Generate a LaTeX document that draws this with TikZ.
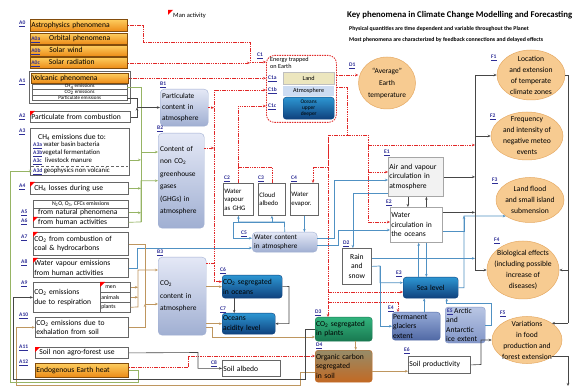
\documentclass[tikz,border=0pt]{standalone}
\usepackage{fontspec}
\setmainfont{Carlito}
\usetikzlibrary{shapes.geometric,arrows.meta}

\definecolor{labblue}{RGB}{45,45,150}
\definecolor{heatred}{RGB}{225,40,40}
\definecolor{waterblue}{RGB}{80,145,195}
\definecolor{carbontan}{RGB}{190,150,95}
\definecolor{ghggreen}{RGB}{150,180,100}
\definecolor{linkgray}{RGB}{70,70,70}
\definecolor{ellfill}{RGB}{247,203,145}
\definecolor{ellline}{RGB}{230,170,100}
\definecolor{orangetop}{RGB}{253,205,95}
\definecolor{orangebot}{RGB}{236,138,22}
\definecolor{gbtop}{RGB}{228,232,246}
\definecolor{gbbot}{RGB}{160,175,210}
\definecolor{seatop}{RGB}{45,150,210}
\definecolor{seabot}{RGB}{15,65,125}
\definecolor{icetop}{RGB}{150,170,215}
\definecolor{icebot}{RGB}{80,105,165}
\definecolor{arctop}{RGB}{185,198,228}
\definecolor{arcbot}{RGB}{130,150,200}
\definecolor{planttop}{RGB}{50,180,125}
\definecolor{plantbot}{RGB}{25,120,80}
\definecolor{soiltop}{RGB}{150,140,105}
\definecolor{soilbot}{RGB}{195,105,35}
\definecolor{landfill}{RGB}{236,230,190}
\definecolor{atmofill}{RGB}{205,220,242}

\newcommand{\plab}[1]{{\fontsize{5.5}{6}\selectfont\bfseries\color{labblue}\underline{#1}}}

\begin{document}
\begin{tikzpicture}[x=1pt,y=-1pt,
    every node/.style={inner sep=1pt, font=\fontsize{7.6}{9.5}\selectfont},
    box/.style={anchor=north west, draw=black!60, line width=0.8pt, fill=white, align=left},
    orangebox/.style={box, draw=orangebot!55!black, top color=orangetop, bottom color=orangebot},
    row/.style={box, line width=0.4pt, inner sep=0pt, align=center, font=\fontsize{5}{5}\selectfont},
    graybox/.style={anchor=north west, rounded corners=4pt, draw=gbbot, top color=gbtop, bottom color=gbbot, align=left, inner sep=2pt},
    seabox/.style={anchor=north west, rounded corners=3pt, draw=seabot, top color=seatop, bottom color=seabot, align=left},
    icebox/.style={seabox, draw=icebot, top color=icetop, bottom color=icebot},
    arcbox/.style={seabox, draw=arcbot, top color=arctop, bottom color=arcbot},
    plantbox/.style={seabox, draw=plantbot, top color=planttop, bottom color=plantbot},
    soilbox/.style={seabox, draw=soilbot, top color=soiltop, bottom color=soilbot},
    tag/.style={anchor=west, inner sep=0pt, text=labblue, font=\fontsize{5.5}{6}\selectfont\bfseries},
    ell/.style={ellipse, draw=ellline, fill=ellfill, line width=0.5pt},
    etext/.style={align=center, font=\fontsize{7.6}{11}\selectfont},
    manflag/.pic={\fill[red] (0,0) -- (5,0) -- (0,5) -- cycle;}]
    \tikzset{endtip/.style={-{Stealth[length=3pt,width=2.5pt]}},
        heat/.style={endtip, draw=heatred, line width=0.6pt, dash pattern=on 1.5pt off 0.8pt},
        heatline/.style={heat, -},
        water/.style={endtip, draw=waterblue, line width=0.7pt},
        carbon/.style={endtip, draw=carbontan, line width=0.7pt},
        ghg/.style={endtip, draw=ghggreen, line width=0.7pt},
        link/.style={endtip, draw=linkgray, line width=0.6pt}}
    \path[use as bounding box, fill=white] (0,0) rectangle (573,387);

    \node[anchor=west, font=\fontsize{8.8}{10}\selectfont\bfseries] (title) at (346,15) {Key phenomena in Climate Change Modelling and Forecasting};
    \node[anchor=west, font=\fontsize{5.8}{6}\selectfont\bfseries] (sub1) at (348,29) {Physical quantities are time dependent and variable throughout the Planet};
    \node[anchor=west, font=\fontsize{5.8}{6}\selectfont\bfseries] (sub2) at (348,40) {Most phenomena are characterized by feedback connections and delayed effects};
    \pic at (168,10) {manflag};
    \node[anchor=west, font=\fontsize{6.5}{7}\selectfont] (legend) at (172,16) {Man activity};

    \node[tag] (tA0) at (19,24) {\underline{A0}};
    \node[orangebox, text width=95pt, minimum height=12pt] (A0) at (30,19) {Astrophysics phenomena};
    \node[orangebox, text width=95pt, minimum height=11pt] (A0a) at (30,33) {\plab{A0a}\hspace{9pt}Orbital phenomena};
    \node[orangebox, text width=95pt, minimum height=11pt] (A0b) at (30,45) {\plab{A0b}\hspace{9pt}Solar wind};
    \node[orangebox, text width=95pt, minimum height=11pt] (A0c) at (30,57) {\plab{A0c}\hspace{9pt}Solar radiation};

    \node[tag] (tA1) at (19,82) {\underline{A1}};
    \node[box, minimum width=101pt, minimum height=32pt] (A1) at (29,71) {};
    \node[orangebox, line width=0.5pt, text width=95pt, minimum height=10pt] (A1v) at (31,73) {Volcanic phenomena};
    \node[row, minimum width=95pt, minimum height=5.5pt] (A1ch4) at (32,84) {CH\textsubscript{4} emissions};
    \node[row, minimum width=95pt, minimum height=5.5pt] (A1co2) at (32,89.5) {CO\textsubscript{2} emissions};
    \node[row, minimum width=95pt, minimum height=5.5pt] (A1par) at (32,95) {Particulate emissions};

    \node[tag] (tA2) at (19,117) {\underline{A2}};
    \node[box, text width=98pt, minimum height=11pt] (A2) at (30,111) {Particulate from combustion};
    \pic at (A2.north west) {manflag};

    \node[tag] (tA3) at (19,132) {\underline{A3}};
    \node[box, minimum width=99pt, minimum height=47pt] (A3) at (30,128) {};
    \node[anchor=west] (A3t) at (37,137) {CH\textsubscript{4} emissions due to:};
    \node[anchor=west, font=\fontsize{6.8}{7}\selectfont] (A3a) at (32,145) {\plab{A3a} water basin bacteria};
    \node[anchor=west, font=\fontsize{6.8}{7}\selectfont] (A3b) at (32,153) {\plab{A3b}vegetal fermentation};
    \node[anchor=west, font=\fontsize{6.8}{7}\selectfont] (A3c) at (32,161) {\plab{A3c}\hspace{2pt} livestock manure};
    \draw[black!60, densely dashed, line width=0.5pt] (31,166) -- (128,166);
    \node[anchor=west, font=\fontsize{6.8}{7}\selectfont] (A3d) at (32,171) {\plab{A3d} geophysics non volcanic};

    \node[tag] (tA4) at (19,187) {\underline{A4}};
    \node[box, text width=96pt, minimum height=12pt] (A4) at (30,182) {\hspace{3pt}CH\textsubscript{4} losses during use};
    \pic at (A4.north west) {manflag};

    \node[box, minimum width=95pt, minimum height=27pt] (A56) at (33,200) {};
    \node[row, minimum width=95pt, minimum height=8pt, font=\fontsize{5.8}{6}\selectfont] (A56h) at (33,200) {N\textsubscript{2}O, O\textsubscript{3}, CFCs emissions};
    \node[tag] (tA5) at (21,213) {\underline{A5}};
    \node[box, line width=0.5pt, text width=93pt, minimum height=9pt] (A5) at (33,208) {\hspace{4pt}from natural phenomena};
    \node[tag] (tA6) at (21,222) {\underline{A6}};
    \node[box, line width=0.5pt, text width=93pt, minimum height=10pt] (A6) at (33,217) {\hspace{4pt}from human activities};
    \pic at (A6.north west) {manflag};

    \node[tag] (tA7) at (21,238) {\underline{A7}};
    \node[box, text width=93pt, minimum height=23pt] (A7) at (33,232) {CO\textsubscript{2} from combustion of\\coal \& hydrocarbons};
    \pic at (A7.north west) {manflag};
    \node[tag] (tA8) at (21,263) {\underline{A8}};
    \node[box, text width=93pt, minimum height=19pt] (A8) at (33,258) {Water vapour emissions\\from human activities};
    \pic at (A8.north west) {manflag};

    \node[tag] (tA9) at (21,284) {\underline{A9}};
    \node[box, text width=95pt, minimum height=30pt] (A9) at (33,282) {CO\textsubscript{2} emissions\\due to respiration};
    \node[box, line width=0.5pt, text width=28pt, minimum height=10pt, font=\fontsize{5.8}{6}\selectfont] (A9m) at (100,282) {\hspace{4pt}men};
    \pic at (A9m.north west) {manflag};
    \node[box, line width=0.5pt, text width=28pt, minimum height=10pt, font=\fontsize{5.8}{6}\selectfont] (A9a) at (100,292) {animals};
    \node[box, line width=0.5pt, text width=28pt, minimum height=10pt, font=\fontsize{5.8}{6}\selectfont] (A9p) at (100,302) {plants};
    \node[tag] (tA10) at (19,316) {\underline{A10}};
    \node[box, text width=91pt, minimum height=20pt] (A10) at (35,317) {CO\textsubscript{2} emissions due to\\exhalation from soil};
    \node[tag] (tA11) at (19,348) {\underline{A11}};
    \node[box, text width=91pt, minimum height=11pt] (A11) at (35,347) {\hspace{3pt}Soil non agro-forest use};
    \pic at (A11.north west) {manflag};
    \node[tag] (tA12) at (19,363) {\underline{A12}};
    \node[orangebox, text width=91pt, minimum height=14pt] (A12) at (35,363) {Endogenous Earth heat};

    \node[tag] (tB1) at (160,85) {\underline{B1}};
    \node[graybox, text width=44pt, minimum height=37pt, font=\fontsize{7.4}{11}\selectfont] (B1) at (160,89) {Particulate\\content in\\atmosphere};
    \node[tag] (tB2) at (157,129) {\underline{B2}};
    \node[graybox, text width=42pt, minimum height=95pt, font=\fontsize{7.4}{12.5}\selectfont] (B2) at (158,133) {Content of\\non CO\textsubscript{2}\\greenhouse\\gases\\(GHGs) in\\atmosphere};
    \node[tag] (tB3) at (157,253) {\underline{B3}};
    \node[graybox, text width=44pt, minimum height=78pt, font=\fontsize{7.4}{12.5}\selectfont] (B3) at (158,257) {CO\textsubscript{2}\\content in\\atmosphere};

    \node[tag] (tC1) at (257,56) {\underline{C1}};
    \node[anchor=north west, draw=heatred, line width=0.8pt, dash pattern=on 1.5pt off 1pt, rounded corners=8pt, minimum width=70pt, minimum height=67pt] (C1) at (266,55) {};
    \node[anchor=north west, align=left, font=\fontsize{6.2}{7}\selectfont] (C1t) at (269,56) {Energy trapped\\on Earth};
    \node[tag] (tC1a) at (268,79) {\underline{C1a}};
    \node[anchor=north west, draw=gray!50, fill=landfill, minimum width=51pt, minimum height=12pt, font=\fontsize{6.2}{7}\selectfont] (C1a) at (283,72) {Land};
    \node[tag] (tC1b) at (268,91) {\underline{C1b}};
    \node[anchor=north west, fill=atmofill, minimum width=51pt, minimum height=10pt, font=\fontsize{6.2}{7}\selectfont] (C1b) at (283,86) {Atmosphere};
    \node[tag] (tC1c) at (268,107) {\underline{C1c}};
    \node[seabox, align=center, minimum width=51pt, minimum height=22pt, font=\fontsize{5.5}{6}\selectfont] (C1c) at (283,97) {Oceans\\upper\\deeper};

    \node[tag] (tD1) at (349,66) {\underline{D1}};
    \node[ell, minimum width=57pt, minimum height=52pt] (D1) at (387,83) {};
    \node[etext, font=\fontsize{7.4}{12}\selectfont] (D1t) at (D1) {``Average''\\Earth\\temperature};

    \node[tag] (tC2) at (224,179) {\underline{C2}};
    \node[box, text width=28pt, minimum height=32pt, font=\fontsize{6.8}{8.5}\selectfont] (C2) at (223,183) {Water\\vapour\\as GHG};
    \node[tag] (tC3) at (258,179) {\underline{C3}};
    \node[box, text width=25pt, minimum height=32pt, font=\fontsize{6.8}{8.5}\selectfont] (C3) at (258,183) {Cloud\\albedo};
    \node[tag] (tC4) at (291,179) {\underline{C4}};
    \node[box, text width=26pt, minimum height=32pt, font=\fontsize{6.8}{8.5}\selectfont] (C4) at (290,183) {Water\\evapor.};
    \node[tag] (tC5) at (241,234) {\underline{C5}};
    \node[graybox, text width=61pt, minimum height=20pt, font=\fontsize{7.2}{8.5}\selectfont] (C5) at (252,232) {Water content\\in atmosphere};
    \node[tag] (tC6) at (220,271) {\underline{C6}};
    \node[seabox, text width=58pt, minimum height=23pt] (C6) at (222,275) {CO\textsubscript{2} segregated\\in oceans};
    \node[tag] (tC7) at (220,310) {\underline{C7}};
    \node[seabox, text width=51pt, minimum height=21pt] (C7) at (222,313) {Oceans\\acidity level};
    \node[tag] (tC8) at (211,364) {\underline{C8}};
    \node[box, text width=56pt, minimum height=16pt] (C8) at (222,360) {Soil albedo};

    \node[tag] (tD2) at (343,244) {\underline{D2}};
    \node[box, align=center, text width=27pt, minimum height=36pt] (D2) at (342,248) {Rain\\and\\snow};
    \node[tag] (tD3) at (315,313) {\underline{D3}};
    \node[plantbox, text width=55pt, minimum height=24pt] (D3) at (315,317) {CO\textsubscript{2} segregated\\in plants};
    \node[tag] (tD4) at (316,346) {\underline{D4}};
    \node[soilbox, text width=55pt, minimum height=32pt] (D4) at (315,350) {Organic carbon\\segregated\\in soil};

    \node[tag] (tE1) at (384,153) {\underline{E1}};
    \node[box, draw=gray!70, fill=gray!10, text width=53pt, minimum height=39pt] (E1) at (388,157) {Air and vapour\\circulation in\\atmosphere};
    \node[tag] (tE2) at (386,203) {\underline{E2}};
    \node[box, draw=gray!70, text width=50pt, minimum height=35pt] (E2) at (390,207) {Water\\circulation in\\the oceans};
    \node[seabox, align=center, text width=53pt, minimum height=21pt] (E3) at (403,277) {Sea level};
    \node[tag] (tE3) at (396,274) {\underline{E3}};
    \node[tag] (tE4) at (388,309) {\underline{E4}};
    \node[icebox, text width=46pt, minimum height=28pt] (E4) at (392,312) {Permanent\\glaciers\\extent};
    \node[arcbox, text width=38pt, minimum height=33pt] (E5) at (445,307) {\hspace{8pt}Arctic and\\Antarctic\\ice extent};
    \node[tag] (tE5) at (447,312) {\underline{E5}};
    \node[tag] (tE6) at (404,351) {\underline{E6}};
    \node[box, text width=60pt, minimum height=17pt] (E6) at (408,356) {Soil productivity};

    \node[tag] (tF1) at (491,58) {\underline{F1}};
    \node[ell, minimum width=68pt, minimum height=50pt] (F1) at (531,75) {};
    \node[etext] (F1t) at (F1) {Location\\and extension\\of temperate\\climate zones};
    \node[tag] (tF2) at (490,117) {\underline{F2}};
    \node[ell, minimum width=72pt, minimum height=48pt] (F2) at (527,136) {};
    \node[etext] (F2t) at (F2) {Frequency\\and intensity of\\negative meteo\\events};
    \node[tag] (tF3) at (492,181) {\underline{F3}};
    \node[ell, minimum width=68pt, minimum height=45pt] (F3) at (530,200) {};
    \node[etext] (F3t) at (F3) {Land flood\\and small island\\submension};
    \node[tag] (tF4) at (494,241) {\underline{F4}};
    \node[ell, minimum width=72pt, minimum height=58pt] (F4) at (523,270) {};
    \node[etext] (F4t) at (F4) {Biological effects\\(including possible\\increase of\\diseases)};
    \node[tag] (tF5) at (500,314) {\underline{F5}};
    \node[ell, minimum width=70pt, minimum height=47pt] (F5) at (527,340) {};
    \node[etext] (F5t) at (F5) {Variations\\in food\\production and\\forest extension};

    \coordinate (hx1) at (143,42);
    \coordinate (hx2) at (250,62);
    \coordinate (hb) at (214,90);
    \coordinate (hj) at (238,167);
    \coordinate (hs1) at (347,135);
    \coordinate (hl) at (328,135);
    \coordinate (hc4) at (313,167);
    \coordinate (hl3) at (328,292);
    \coordinate (hl4) at (328,302);
    \coordinate (hr) at (368,135);
    \coordinate (hr2) at (368,145);
    \coordinate (hr1) at (368,172);
    \coordinate (hr3) at (368,222);
    \coordinate (hq) at (188,356);
    \coordinate (fb) at (475,75);
    \coordinate (rb) at (568,75);
    \coordinate (rb2) at (568,386);
    \coordinate (b2h) at ([yshift=-15pt]B2.north east);
    \coordinate (b3h) at ([yshift=-6pt]B3.north east);
    \coordinate (c6h) at ([yshift=5pt]C6.west);
    \coordinate (c1c) at ([yshift=-51pt]C1.north west);
    \coordinate (c1e) at ([yshift=-20pt]C1.north east);
    \coordinate (c1s) at ([yshift=-32pt]C1.north east);
    \coordinate (a12o) at ([yshift=3pt]A12.east);

    \draw[heat] (A0.east) -| (hx1) -| (hx2) -- (hx2 -| C1.west);
    \draw[heat] (A0c.east) -- (A0c.east -| hx2);
    \draw[heat] (A1v.east) -- (A1v.east -| C1.west);
    \draw[heat] (b3h) -| (hb) -- (hb -| C1.west);
    \draw[heat] (B1.east) -- (B1.east -| hb);
    \draw[heat] (b2h) -- (b2h -| hb);
    \draw[heat] (b3h -| hb) |- (c6h);
    \draw[heat] (C2.north) |- (c1c);
    \draw[heatline] (C3.north) |- (hj);
    \draw[heat] (c1e) -- (c1e -| D1.west);
    \draw[heatline] (c1s) -| (hs1);
    \draw[heat] (hs1) -- (hl) |- (hc4) -- (hc4 |- C4.north);
    \draw[heat] (hl) -- (hl |- D3.north);
    \draw[heat] (hl3) -- (hl3 -| E3.west);
    \draw[heat] (hl4) -| ([xshift=6pt]E4.north west);
    \draw[heat] (hs1) -- (hr) -- (hr3) -- (hr3 -| E2.west);
    \draw[heat] (hr1) -- (hr1 -| E1.west);
    \draw[heat] (hr2) -- (hr2 -| fb);
    \draw[heat] (a12o) -| (hq) -- (hq -| D4.west);

    \coordinate (w1) at (137,248);
    \coordinate (w2) at (284.5,222);
    \coordinate (w3) at (233,222);
    \coordinate (w5) at (334,180);
    \coordinate (w6) at (338,230);
    \coordinate (w7) at (380,266);
    \coordinate (w8) at (491,303);
    \coordinate (w9) at (464,216);
    \coordinate (c5w) at ([yshift=4pt]C5.west);
    \coordinate (c5a) at ([yshift=4pt]C5.east);
    \coordinate (c5b) at ([yshift=-3pt]C5.east);
    \coordinate (e1d) at ([yshift=-16pt]E1.west);
    \coordinate (d2n) at ([xshift=-4pt]D2.north);
    \coordinate (d2o) at ([yshift=8pt]D2.east);
    \coordinate (e3w) at ([yshift=5pt]E3.west);
    \coordinate (e2s) at ([xshift=10pt]E2.south);
    \coordinate (e3n) at ([xshift=-12pt]E3.north);
    \coordinate (e4n) at ([xshift=8pt]E4.north);
    \coordinate (e3s) at ([xshift=16pt]E3.south);
    \coordinate (e2e) at ([yshift=-6pt]E2.east);

    \draw[water] (A8.east) -| (w1) -- (w1 -| C5.west);
    \draw[water] (C5.north) -- (w2) -| (C2.south);
    \draw[water] (w2) -| (C3.south);
    \draw[water] (w2) -- (w3) |- (c5w);
    \draw[water] (C4.south) -- (C4.south |- C5.north);
    \draw[water] (c5a) -| (w5) -- (w5 -| E1.west);
    \draw[water] (c5b) -| (w6) -- (w6 -| E2.west);
    \draw[water] (e1d) -| (d2n);
    \draw[water] (D2.east) -- (w7) |- (e3w);
    \draw[water] (w7) |- (E4.west);
    \draw[water] (d2o) -- (d2o -| fb);
    \draw[water] (e2s) -- (e2s |- E3.north);
    \draw[water] (e3n) -- (e3n |- E2.south);
    \draw[water] (e4n) -- (e4n |- E3.south);
    \draw[water] (E5.east) -| (w8) -| (e3s);
    \draw[water] (E3.east) -| (w9) -- (F3.south west);
    \draw[water] (e2e) -| (w9);

    \coordinate (k1) at (145,304);
    \coordinate (k2) at (138,307);
    \coordinate (k3) at (138,270);
    \coordinate (k4) at (212,337);
    \coordinate (k5) at (300,385);
    \coordinate (k6) at (16,385);
    \coordinate (b3o) at ([yshift=8pt]B3.south east);
    \coordinate (d3s) at ([xshift=12pt]D3.south);
    \coordinate (d4e) at ([yshift=-5pt]D4.east);
    \coordinate (d4w) at ([yshift=-6pt]D4.west);

    \draw[carbon] (A7.east) -| (k1) -- (k1 -| B3.west);
    \draw[carbon] (A10.east) -| (k1);
    \draw[carbon] (A9p.east) -- (k2) -- (k3) -- (k3 -| B3.west);
    \draw[carbon] (A9m.east) -- (A9m.east -| k2);
    \draw[carbon] (A9a.east) -- (A9a.east -| k2);
    \draw[carbon] (C6.west -| B3.east) -- (C6.west);
    \draw[carbon] (C7.west -| B3.east) -- (C7.west);
    \draw[carbon] (b3o) -| (k4) -- (k4 -| D3.west);
    \draw[carbon] (d3s) -- (d3s |- D4.north);
    \draw[carbon] (d4e) -- (d4e -| E6.west);
    \draw[carbon] (d4w) -| (k5) -- (k6) |- (A10.west);

    \coordinate (g1) at (141,152);
    \coordinate (g2) at (141,222);
    \coordinate (g4) at (138,382);
    \coordinate (g5) at (10,382);
    \coordinate (a3o) at ([yshift=-8pt]A3.east);

    \draw[ghg] (A1ch4.east) -| (g1) -- (g1 -| B2.west);
    \draw[ghg, -] (g1) -- (g2);
    \draw[ghg] (a3o) -- (a3o -| g1);
    \draw[ghg] (A4.east) -- (A4.east -| g1);
    \draw[ghg] (A5.east) -- (A5.east -| g2);
    \draw[ghg] (A6.east) -- (g2) |- (B2.west);
    \draw[ghg] (A12.east) -| (g4) -- (g5) |- (A3d.west);

    \coordinate (l1) at (137,107.5);
    \coordinate (l2) at (198,352.5);
    \coordinate (m1) at (305,379);
    \coordinate (m2) at (13,379);
    \coordinate (c6r) at (289,286.5);
    \coordinate (c6s) at ([xshift=-18pt]C6.south);
    \coordinate (e1s) at ([xshift=-8pt]E1.south);
    \coordinate (e2n) at ([xshift=10pt]E2.north);
    \coordinate (e2f) at ([yshift=12.5pt]E2.east);
    \coordinate (e6f) at (481,364.5);

    \draw[link] (A1par.east) -| (l1) -- (l1 -| B1.west);
    \draw[link] (A2.east) -| (l1);
    \draw[link] (A11.east) -- (l2) |- (C8.west);
    \draw[link] (C6.east) -- (c6r) |- (C7.east);
    \draw[link] (c6s) -- (c6s |- C7.north);
    \draw[link] (D3.west) -| (m1) -- (m2) |- (A9.west);
    \draw[link] (e1s) -- (e1s |- E2.north);
    \draw[link] (e2n) -- (e2n |- E1.south);
    \draw[link] (E1.east) -- (E1.east -| fb);
    \draw[link] (e2f) -- (e2f -| fb);
    \draw[link, -] (fb) -- (fb |- F4.west);
    \draw[link] (fb) -- (F1.west);
    \draw[link] (fb |- F2.west) -- (F2.west);
    \draw[link] (fb |- F4.west) -- (F4.west);
    \draw[link, -] (F1.east) -- (rb) -- (rb |- F5.north east);
    \draw[link] (rb |- F4.east) -- (F4.east);
    \draw[link] (rb |- F5.north east) -- (F5.north east);
    \draw[link] (F5.south east) -| (rb2);
    \draw[link] (E6.east) -- (e6f) |- (F5.west);
\end{tikzpicture}
\end{document}
